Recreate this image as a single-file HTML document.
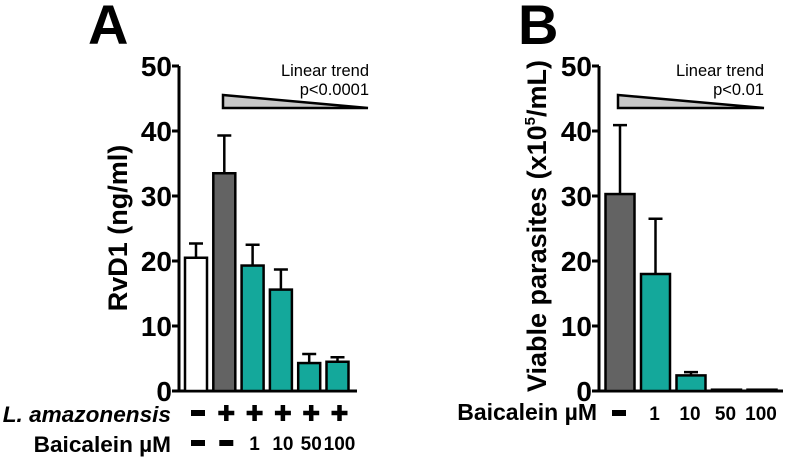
<!DOCTYPE html>
<html><head><meta charset="utf-8"><style>
html,body{margin:0;padding:0;background:#fff;}
svg{display:block;font-family:"Liberation Sans",sans-serif;}
</style></head><body>
<svg id="fig" width="787" height="458" viewBox="0 0 787 458">
<text x="88" y="44" font-size="56" font-weight="bold">A</text>
<text x="518" y="44" font-size="56" font-weight="bold">B</text>
<text transform="translate(127,228) rotate(-90)" text-anchor="middle" font-size="27" font-weight="bold">RvD1 (ng/ml)</text>
<text transform="translate(546,226) rotate(-90)" text-anchor="middle" font-size="27" font-weight="bold">Viable parasites (x10<tspan font-size="15" dy="-11">5</tspan><tspan dy="11">/mL)</tspan></text>
<text x="369" y="76" text-anchor="end" font-size="16.5">Linear trend</text>
<text x="369" y="95" text-anchor="end" font-size="16.5">p&lt;0.0001</text>
<polygon points="223,95 223,108 368,108" fill="#c8c8c8" stroke="#000" stroke-width="2.5"/>
<text x="764" y="76" text-anchor="end" font-size="16.5">Linear trend</text>
<text x="764" y="95" text-anchor="end" font-size="16.5">p&lt;0.01</text>
<polygon points="618,95 618,108 764,108" fill="#c8c8c8" stroke="#000" stroke-width="2.5"/>
<text x="171" y="422" text-anchor="end" font-size="22.6" font-weight="bold" font-style="italic">L. amazonensis</text>
<text x="171" y="452" text-anchor="end" font-size="22.6" font-weight="bold">Baicalein µM</text>
<text x="597" y="420" text-anchor="end" font-size="23" font-weight="bold">Baicalein µM</text>
<g id="ga"></g><g id="gb"></g>
</svg>
<script>
const ticks = [0,10,20,30,40,50];
const aValues = [20.5,33.5,19.3,15.6,4.3,4.5];
const aErrors = [2.2,5.8,3.2,3.1,1.4,0.7];
const aInfection = ["-","+","+","+","+","+"];
const aDose = ["-","-","1","10","50","100"];
const bValues = [30.3,18.0,2.4,0.2,0.2];
const bErrors = [10.6,8.5,0.5,0,0];
const bDose = ["-","1","10","50","100"];

const NS="http://www.w3.org/2000/svg";
function mk(p,tag,attrs){const e=document.createElementNS(NS,tag);for(const k in attrs)e.setAttribute(k,attrs[k]);p.appendChild(e);return e;}
const y=v=>391-v*6.5;
const fills=["#ffffff","#636363","#14a89b"];

function panel(g,axX,axEnd,x0,pitch,bw,vals,errs,fillFn,id){
  const ax=mk(g,'line',{x1:axX,y1:y(0)+1,x2:axX,y2:y(50),stroke:'#000','stroke-width':3});
  
  
  const xl=mk(g,'line',{x1:axX-7,y1:y(0),x2:axEnd,y2:y(0),stroke:'#000','stroke-width':3});
  
  
  ticks.forEach(t=>{
    const tk=mk(g,'line',{x1:axX-7,y1:y(t),x2:axX,y2:y(t),stroke:'#000','stroke-width':3});
    
    
    const tl=mk(g,'text',{x:axX-7,y:y(t)+10,'text-anchor':'end','font-size':28,'font-weight':'bold'});
    tl.textContent=t;
    
    
  });
  vals.forEach((v,i)=>{
    const cx=x0+i*pitch;
    if(errs[i]>0){
      const e=mk(g,'path',{d:`M${cx},${y(v)} V${y(v+errs[i])} M${cx-7},${y(v+errs[i])} H${cx+7}`,stroke:'#000','stroke-width':2.5,fill:'none'});
      
      
    }
    const h=Math.max(y(0)-y(v),1);
    const r=mk(g,'rect',{x:cx-bw/2,y:y(v),width:bw,height:h,fill:fillFn(i),stroke:'#000','stroke-width':2.5});
    
    
  });
}
const ga=document.getElementById('ga'), gb=document.getElementById('gb');
panel(ga,179,357,196,28.3,22,aValues,aErrors,i=>fills[Math.min(i,2)],'a');
panel(gb,599,783,620,35.5,29,bValues,bErrors,i=>fills[i===0?1:2],'b');

function sign(g,cx,cy,s,name){
  if(s==='-'){const r=mk(g,'rect',{x:cx-7,y:cy-3,width:14,height:6,fill:'#000'});}
  else if(s==='+'){const p=mk(g,'path',{d:`M${cx-8},${cy} H${cx+8} M${cx},${cy-8} V${cy+8}`,stroke:'#000','stroke-width':4.5});}
  else{const t=mk(g,'text',{x:cx,y:cy+7,'text-anchor':'middle','font-size':19,'font-weight':'bold'});t.textContent=s;}
}
aInfection.forEach((s,i)=>sign(ga,198+i*28.3,413,s,'infection-sign'));
aDose.forEach((s,i)=>sign(ga,198+i*28.3,443,s,'dose-label-a'));
bDose.forEach((s,i)=>sign(gb,619+i*35.5,413,s,'dose-label-b'));
</script>
</body></html>
